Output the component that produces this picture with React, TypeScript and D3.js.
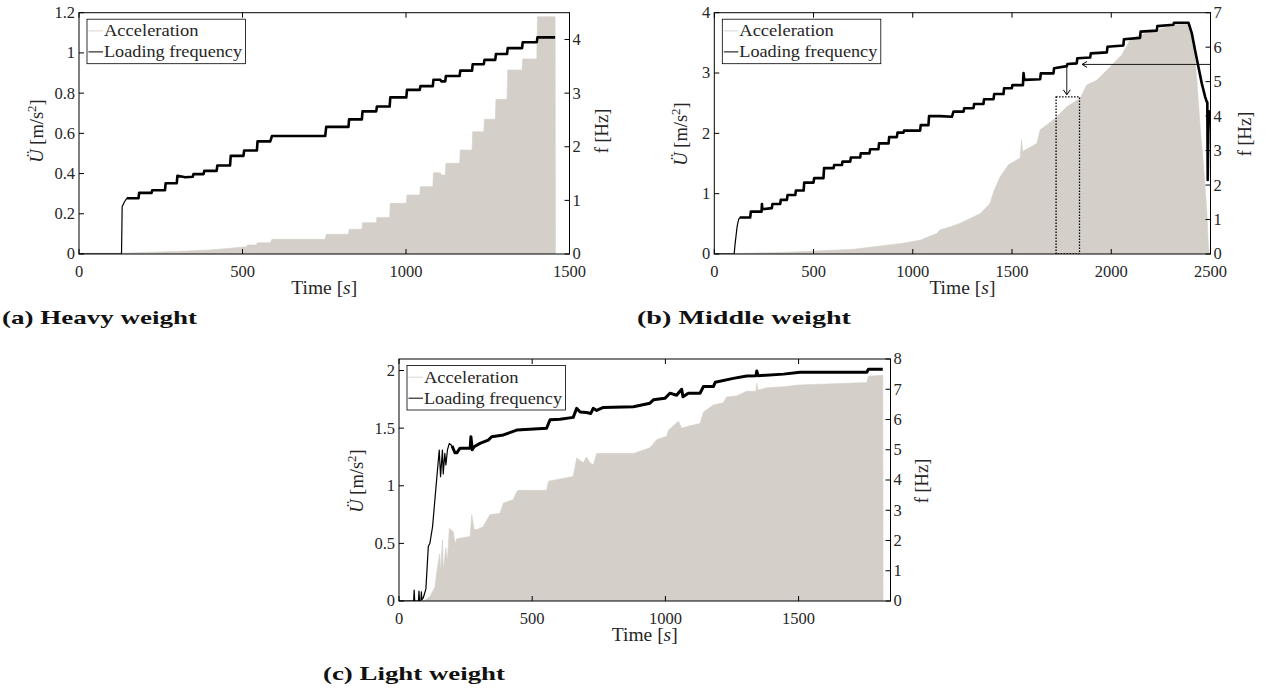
import React from 'react';
import * as d3 from 'd3';

// ---------------- Panel (a) Heavy weight ----------------
const timeAccA = [0, 130, 200, 300, 400, 460, 513, 515, 543, 545, 585, 590, 753, 756, 824, 826, 865, 867, 909, 911, 950, 952, 1001, 1003, 1042, 1044, 1082, 1084, 1105, 1108, 1120, 1122, 1164, 1166, 1202, 1204, 1238, 1240, 1273, 1275, 1309, 1311, 1355, 1357, 1400, 1402, 1456, 1457];
const accA = [0.004, 0.004, 0.008, 0.013, 0.02, 0.028, 0.036, 0.045, 0.045, 0.056, 0.056, 0.073, 0.073, 0.098, 0.098, 0.123, 0.123, 0.156, 0.156, 0.182, 0.182, 0.252, 0.252, 0.293, 0.293, 0.335, 0.335, 0.404, 0.404, 0.393, 0.393, 0.451, 0.451, 0.517, 0.517, 0.608, 0.608, 0.67, 0.67, 0.769, 0.769, 0.915, 0.915, 0.97, 0.97, 1.18, 1.18, 0];
const timeFreqA = [0, 130, 132, 138, 146, 182, 184, 222, 224, 263, 265, 299, 301, 325, 348, 350, 381, 383, 421, 423, 462, 464, 503, 505, 544, 546, 585, 590, 753, 756, 824, 826, 865, 867, 909, 911, 950, 952, 1001, 1003, 1042, 1044, 1082, 1084, 1105, 1108, 1120, 1122, 1164, 1166, 1202, 1204, 1238, 1240, 1273, 1275, 1309, 1311, 1355, 1357, 1400, 1402, 1456];
const freqA = [0, 0, 0.88, 0.96, 1.04, 1.04, 1.14, 1.14, 1.19, 1.19, 1.32, 1.32, 1.46, 1.43, 1.44, 1.49, 1.49, 1.55, 1.55, 1.65, 1.65, 1.83, 1.83, 1.93, 1.93, 2.1, 2.1, 2.2, 2.2, 2.37, 2.37, 2.51, 2.51, 2.66, 2.66, 2.75, 2.75, 2.92, 2.92, 3.06, 3.06, 3.13, 3.13, 3.25, 3.25, 3.22, 3.22, 3.32, 3.32, 3.42, 3.42, 3.54, 3.54, 3.62, 3.62, 3.73, 3.73, 3.84, 3.84, 3.95, 3.95, 4.04, 4.04];
const xTicksA = [0, 500, 1000, 1500];
const xTickLabelsA = ['0', '500', '1000', '1500'];
const yLeftTicksA = [0, 0.2, 0.4, 0.6, 0.8, 1, 1.2];
const yLeftTickLabelsA = ['0', '0.2', '0.4', '0.6', '0.8', '1', '1.2'];
const yRightTicksA = [0, 1, 2, 3, 4];

// ---------------- Panel (b) Middle weight ----------------
const timeAccB = [0, 100, 366, 702, 953, 1037, 1121, 1138, 1190, 1239, 1289, 1340, 1390, 1407, 1440, 1482, 1541, 1548, 1553, 1625, 1642, 1675, 1717, 1776, 1843, 1876, 1927, 1994, 2028, 2053, 2095, 2145, 2229, 2313, 2389, 2414, 2431, 2448, 2464, 2481, 2489, 2495];
const accB = [0.005, 0.008, 0.028, 0.078, 0.18, 0.23, 0.34, 0.4, 0.45, 0.51, 0.59, 0.67, 0.84, 1.03, 1.28, 1.48, 1.59, 1.89, 1.7, 1.83, 2.06, 2.14, 2.25, 2.44, 2.58, 2.8, 2.88, 3.1, 3.22, 3.3, 3.55, 3.63, 3.71, 3.8, 3.82, 3.55, 2.9, 2.1, 1.5, 0.73, 0.15, 0];
const timeFreqB = [0, 100, 105, 115, 122, 128, 181, 184, 238, 240, 242, 290, 293, 332, 335, 366, 369, 408, 411, 450, 453, 500, 503, 550, 553, 601, 604, 643, 646, 685, 688, 735, 738, 782, 785, 827, 830, 878, 881, 920, 923, 953, 956, 1037, 1040, 1079, 1082, 1138, 1197, 1205, 1256, 1259, 1306, 1309, 1356, 1359, 1407, 1410, 1457, 1460, 1499, 1502, 1555, 1558, 1562, 1642, 1645, 1709, 1712, 1776, 1779, 1826, 1829, 1894, 1897, 1978, 1981, 2061, 2064, 2145, 2148, 2229, 2232, 2313, 2316, 2389, 2406, 2422, 2439, 2456, 2473, 2481, 2484, 2486, 2489, 2493];
const freqB = [0, 0, 0.3, 0.8, 0.99, 1.06, 1.06, 1.23, 1.23, 1.45, 1.3, 1.33, 1.45, 1.45, 1.57, 1.57, 1.71, 1.71, 1.84, 1.84, 2.07, 2.07, 2.2, 2.2, 2.49, 2.49, 2.58, 2.58, 2.68, 2.68, 2.8, 2.8, 2.92, 2.92, 3.04, 3.04, 3.21, 3.21, 3.39, 3.39, 3.52, 3.52, 3.58, 3.58, 3.74, 3.74, 4.0, 4.0, 3.98, 4.13, 4.13, 4.23, 4.23, 4.35, 4.35, 4.49, 4.49, 4.64, 4.64, 4.81, 4.81, 4.9, 4.9, 5.25, 5.05, 5.07, 5.24, 5.24, 5.39, 5.45, 5.51, 5.53, 5.68, 5.7, 5.82, 5.85, 6.01, 6.05, 6.23, 6.27, 6.45, 6.48, 6.61, 6.65, 6.71, 6.71, 6.4, 5.92, 5.43, 4.95, 4.56, 4.42, 4.4, 2.15, 3.5, 4.18];
const xTicksB = [0, 500, 1000, 1500, 2000, 2500];
const xTickLabelsB = ['0', '500', '1000', '1500', '2000', '2500'];
const yLeftTicksB = [0, 1, 2, 3, 4];
const yLeftTickLabelsB = ['0', '1', '2', '3', '4'];
const yRightTicksB = [0, 1, 2, 3, 4, 5, 6, 7];
// annotation in panel (b)
const annotHLineB = { t0: 1853, f: 5.5 };
const annotArrowB = { t: 1776, f0: 5.52, f1: 4.62 };
const annotBoxB = { t0: 1722, t1: 1840, f0: 0, f1: 4.56 };

// ---------------- Panel (c) Light weight ----------------
const timeAccC = [0, 79, 100, 116, 135, 141, 151, 153, 156, 163, 166, 176, 182, 189, 204, 210, 217, 267, 273, 282, 292, 316, 329, 342, 379, 392, 429, 442, 448, 554, 561, 654, 667, 692, 704, 717, 729, 742, 880, 942, 967, 1005, 1011, 1049, 1061, 1092, 1130, 1143, 1180, 1217, 1230, 1268, 1305, 1340, 1343, 1348, 1380, 1443, 1505, 1756, 1762, 1816, 1817];
const accC = [0, 0, 0.01, 0.04, 0.12, 0.24, 0.38, 0.41, 0.25, 0.53, 0.27, 0.46, 0.35, 0.63, 0.6, 0.5, 0.54, 0.56, 0.75, 0.62, 0.62, 0.645, 0.7, 0.75, 0.76, 0.85, 0.88, 0.95, 0.96, 0.96, 1.04, 1.08, 1.24, 1.2, 1.25, 1.2, 1.18, 1.28, 1.28, 1.33, 1.4, 1.43, 1.48, 1.56, 1.5, 1.52, 1.54, 1.64, 1.7, 1.72, 1.77, 1.78, 1.82, 1.82, 1.89, 1.83, 1.85, 1.86, 1.875, 1.895, 1.95, 1.96, 0];
const timeFreqC = [0, 55, 57, 59, 73, 75, 77, 82, 84, 86, 91, 101, 110, 116, 126, 139, 151, 156, 163, 166, 172, 176, 182, 189, 199, 210, 217, 229, 267, 270, 275, 282, 304, 335, 348, 392, 442, 554, 567, 604, 654, 667, 680, 704, 720, 729, 742, 767, 880, 942, 955, 998, 1017, 1042, 1061, 1066, 1086, 1130, 1143, 1180, 1187, 1255, 1305, 1340, 1343, 1348, 1443, 1505, 1756, 1762, 1816];
const freqC = [0, 0, 0.36, 0, 0, 0.33, 0, 0, 0.3, 0.05, 0.1, 0.4, 1.8, 1.91, 2.46, 3.78, 4.99, 4.11, 4.99, 4.2, 4.88, 4.5, 5.0, 5.21, 5.13, 4.9, 4.9, 5.05, 5.05, 5.43, 5.0, 5.1, 5.21, 5.32, 5.43, 5.49, 5.65, 5.71, 5.99, 6.01, 6.07, 6.37, 6.25, 6.23, 6.2, 6.37, 6.3, 6.4, 6.42, 6.54, 6.65, 6.7, 6.87, 6.8, 7.0, 6.75, 6.87, 6.87, 7.09, 7.09, 7.23, 7.36, 7.44, 7.45, 7.6, 7.45, 7.5, 7.56, 7.56, 7.66, 7.66];
const xTicksC = [0, 500, 1000, 1500];
const xTickLabelsC = ['0', '500', '1000', '1500'];
const yLeftTicksC = [0, 0.5, 1, 1.5, 2];
const yLeftTickLabelsC = ['0', '0.5', '1', '1.5', '2'];
const yRightTicksC = [0, 1, 2, 3, 4, 5, 6, 7, 8];

const legendLabels = ['Acceleration', 'Loading frequency'];

const FONT = '"Liberation Serif", "Times New Roman", serif';
const TXT = '#262626';
const FILL = '#d4d0c9';

type Cfg = {
  id: string;
  left: number; right: number; top: number; bottom: number;
  xMax: number; yLMax: number; yRMax: number;
  xTicks: number[]; xTickLabels: string[];
  yLTicks: number[]; yLTickLabels: string[];
  yRTicks: number[];
  tAcc: number[]; acc: number[]; tFreq: number[]; freq: number[];
  thinUntil: number; lineW: number;
  yLabelX: number; yRLabelX: number; labelCY: number;
  caption: string; capX: number; capY: number; capW: number;
  annot?: boolean;
};

function Panel({ c }: { c: Cfg }) {
  const x = d3.scaleLinear().domain([0, c.xMax]).range([c.left, c.right]);
  const yL = d3.scaleLinear().domain([0, c.yLMax]).range([c.bottom, c.top]);
  const yR = d3.scaleLinear().domain([0, c.yRMax]).range([c.bottom, c.top]);
  const accPts: [number, number][] = c.tAcc.map((t, i) => [t, c.acc[i]]);
  const frPts: [number, number][] = c.tFreq.map((t, i) => [t, c.freq[i]]);
  const area = d3.area<[number, number]>().x(d => x(d[0])).y0(yL(0)).y1(d => yL(d[1]));
  const line = d3.line<[number, number]>().x(d => x(d[0])).y(d => yR(d[1]));
  const k = frPts.findIndex(p => p[0] >= c.thinUntil);
  const thin = frPts.slice(0, k + 1);
  const thick = frPts.slice(k);
  const tl = 5;
  const lgX = c.left + 8, lgY = c.top + 6.5, lgW = 158.5, lgH = 44.5;
  const clip = `clip-${c.id}`;
  return (
    <g>
      <defs>
        <clipPath id={clip}>
          <rect x={c.left} y={c.top} width={c.right - c.left} height={c.bottom - c.top} />
        </clipPath>
      </defs>
      <g clipPath={`url(#${clip})`}>
        <path d={area(accPts) || ''} fill={FILL} stroke={FILL} strokeWidth={0.6} />
        <path d={line(thin) || ''} fill="none" stroke="#000" strokeWidth={1.2} strokeLinejoin="round" />
        <path d={line(thick) || ''} fill="none" stroke="#000" strokeWidth={c.lineW} strokeLinejoin="round" />
        {c.annot && (() => {
          const hy = yR(annotHLineB.f);
          const hx = x(annotHLineB.t0);
          const ax = x(annotArrowB.t);
          const ay0 = yR(annotArrowB.f0);
          const ay1 = yR(annotArrowB.f1);
          return (
            <g>
              <line x1={hx} y1={hy} x2={c.right} y2={hy} stroke="#000" strokeWidth={0.9} />
              <path d={`M${hx + 5},${hy - 3} L${hx},${hy} L${hx + 5},${hy + 3}`} fill="none" stroke="#000" strokeWidth={1} />
              <line x1={ax} y1={ay0} x2={ax} y2={ay1} stroke="#000" strokeWidth={0.9} />
              <path d={`M${ax - 3.5},${ay1 - 5} L${ax},${ay1} L${ax + 3.5},${ay1 - 5}`} fill="none" stroke="#000" strokeWidth={1} />
              <rect x={x(annotBoxB.t0)} y={yR(annotBoxB.f1)} width={x(annotBoxB.t1) - x(annotBoxB.t0)} height={yR(annotBoxB.f0) - yR(annotBoxB.f1)}
                fill="none" stroke="#000" strokeWidth={1.3} strokeDasharray="1.5,1.5" />
            </g>
          );
        })()}
      </g>
      {/* axes box */}
      <rect x={c.left} y={c.top} width={c.right - c.left} height={c.bottom - c.top} fill="none" stroke="#000" strokeWidth={1} />
      {c.xTicks.map((t, i) => (
        <g key={'xt' + i}>
          <line x1={x(t)} x2={x(t)} y1={c.bottom} y2={c.bottom - tl} stroke="#000" />
          <line x1={x(t)} x2={x(t)} y1={c.top} y2={c.top + tl} stroke="#000" />
          <text x={x(t)} y={c.bottom + 22.5} textAnchor="middle" fontFamily={FONT} fontSize={16.5} fill={TXT}>{c.xTickLabels[i]}</text>
        </g>
      ))}
      {c.yLTicks.map((t, i) => (
        <g key={'yl' + i}>
          <line x1={c.left} x2={c.left + tl} y1={yL(t)} y2={yL(t)} stroke="#000" />
          <text x={c.left - 4} y={yL(t)} dy="0.33em" textAnchor="end" fontFamily={FONT} fontSize={16.5} fill={TXT}>{c.yLTickLabels[i]}</text>
        </g>
      ))}
      {c.yRTicks.map((t, i) => (
        <g key={'yr' + i}>
          <line x1={c.right} x2={c.right - tl} y1={yR(t)} y2={yR(t)} stroke="#000" />
          <text x={c.right + 3} y={yR(t)} dy="0.33em" textAnchor="start" fontFamily={FONT} fontSize={16.5} fill={TXT}>{String(t)}</text>
        </g>
      ))}
      <text x={(c.left + c.right) / 2} y={c.bottom + 40} textAnchor="middle" fontFamily={FONT} fontSize={18} fill={TXT}
        textLength={66} lengthAdjust="spacingAndGlyphs">
        Time [<tspan fontStyle="italic">s</tspan>]
      </text>
      <text transform={`translate(${c.yLabelX},${c.labelCY}) rotate(-90)`} textAnchor="middle" fontFamily={FONT} fontSize={18.5} fill={TXT}>
        <tspan fontStyle="italic">Ü</tspan> [m/s<tspan dy={-7} fontSize={13}>2</tspan><tspan dy={7}>]</tspan>
      </text>
      <text transform={`translate(${c.yRLabelX},${c.labelCY}) rotate(-90)`} textAnchor="middle" fontFamily={FONT} fontSize={18.5} fill={TXT}>
        f [Hz]
      </text>
      {/* legend */}
      <rect x={lgX} y={lgY} width={lgW} height={lgH} fill="#fff" stroke="#000" strokeWidth={0.8} />
      <line x1={lgX + 1.5} x2={lgX + 16} y1={lgY + 11.7} y2={lgY + 11.7} stroke="#d9d5cf" strokeWidth={1} />
      <line x1={lgX + 1.5} x2={lgX + 16} y1={lgY + 32.7} y2={lgY + 32.7} stroke="#000" strokeWidth={1} />
      <text x={lgX + 17} y={lgY + 17} fontFamily={FONT} fontSize={17.5} fill={TXT} textLength={94.5} lengthAdjust="spacingAndGlyphs">{legendLabels[0]}</text>
      <text x={lgX + 17} y={lgY + 38} fontFamily={FONT} fontSize={17.5} fill={TXT} textLength={138} lengthAdjust="spacingAndGlyphs">{legendLabels[1]}</text>
      <text x={c.capX} y={c.capY} fontFamily={FONT} fontWeight="bold" fontSize={19.5} fill="#111" textLength={c.capW} lengthAdjust="spacingAndGlyphs">{c.caption}</text>
    </g>
  );
}

const panels: Cfg[] = [
  {
    id: 'a', left: 79, right: 569.5, top: 12.7, bottom: 254, xMax: 1500, yLMax: 1.2, yRMax: 4.5,
    xTicks: xTicksA, xTickLabels: xTickLabelsA, yLTicks: yLeftTicksA, yLTickLabels: yLeftTickLabelsA, yRTicks: yRightTicksA,
    tAcc: timeAccA, acc: accA, tFreq: timeFreqA, freq: freqA, thinUntil: 146, lineW: 2.6,
    yLabelX: 43, yRLabelX: 608, labelCY: 131,
    caption: '(a)  Heavy  weight', capX: 2, capY: 324, capW: 195,
  },
  {
    id: 'b', left: 714.3, right: 1210.5, top: 12.7, bottom: 254, xMax: 2500, yLMax: 4, yRMax: 7,
    xTicks: xTicksB, xTickLabels: xTickLabelsB, yLTicks: yLeftTicksB, yLTickLabels: yLeftTickLabelsB, yRTicks: yRightTicksB,
    tAcc: timeAccB, acc: accB, tFreq: timeFreqB, freq: freqB, thinUntil: 128, lineW: 2.6,
    yLabelX: 686.5, yRLabelX: 1251, labelCY: 134,
    caption: '(b)  Middle  weight', capX: 637, capY: 324, capW: 214, annot: true,
  },
  {
    id: 'c', left: 399, right: 890.5, top: 359, bottom: 601, xMax: 1845, yLMax: 2.1, yRMax: 8,
    xTicks: xTicksC, xTickLabels: xTickLabelsC, yLTicks: yLeftTicksC, yLTickLabels: yLeftTickLabelsC, yRTicks: yRightTicksC,
    tAcc: timeAccC, acc: accC, tFreq: timeFreqC, freq: freqC, thinUntil: 190, lineW: 3,
    yLabelX: 362.5, yRLabelX: 928, labelCY: 481,
    caption: '(c)  Light  weight', capX: 323, capY: 680, capW: 182,
  },
];

export default function App() {
  return (
    <svg width={1268} height={691} viewBox="0 0 1268 691"
      style={{ position: 'absolute', left: 0, top: 0, background: '#fff' }}>
      <rect x={0} y={0} width={1268} height={691} fill="#fff" />
      {panels.map(p => <Panel key={p.id} c={p} />)}
    </svg>
  );
}
